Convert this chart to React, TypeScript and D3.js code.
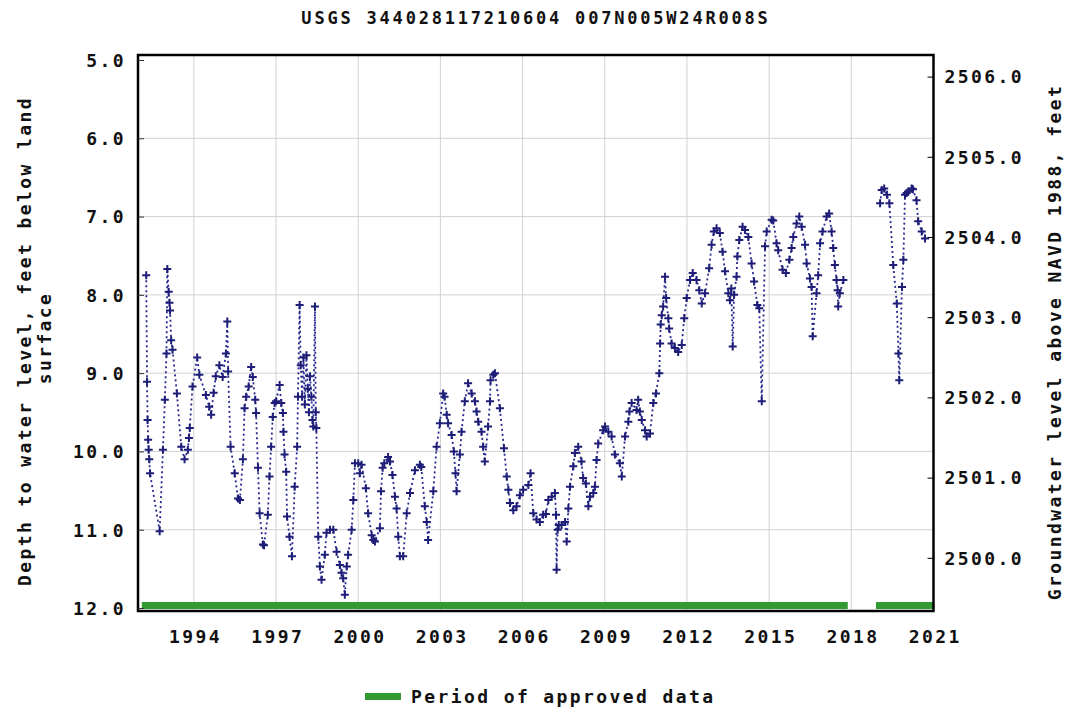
import React from 'react';
import * as d3 from 'd3';

const TITLE = 'USGS 344028117210604 007N005W24R008S';
const LEFT_LABEL_1 = 'Depth to water level, feet below land';
const LEFT_LABEL_2 = 'surface';
const RIGHT_LABEL = 'Groundwater level above NAVD 1988, feet';
const LEGEND_LABEL = 'Period of approved data';

const yearTicks = [1994, 1997, 2000, 2003, 2006, 2009, 2012, 2015, 2018, 2021];
const depthTicks = [5, 6, 7, 8, 9, 10, 11, 12];
const elevationTicks = [2500, 2501, 2502, 2503, 2504, 2505, 2506];

// approved data periods (decimal years)
const approvedPeriods: [number, number][] = [
  [1992.1, 2017.87],
  [2018.9, 2021.0],
];

// [decimal year, depth below land surface (ft)]
const levels1992to2017: [number, number][] = [
  [1992.26, 7.75], [1992.29, 9.11], [1992.31, 9.6], [1992.33, 9.85], [1992.35, 9.98],
  [1992.37, 10.1], [1992.40, 10.28], [1992.75, 11.02], [1992.87, 9.98], [1992.94, 9.34],
  [1993.0, 8.75], [1993.03, 7.67], [1993.08, 7.96], [1993.11, 8.1], [1993.13, 8.2],
  [1993.17, 8.58], [1993.22, 8.7], [1993.38, 9.26], [1993.54, 9.94], [1993.66, 10.1],
  [1993.78, 9.98], [1993.82, 9.83], [1993.85, 9.7], [1993.95, 9.17], [1994.12, 8.8],
  [1994.2, 9.02], [1994.44, 9.28], [1994.56, 9.43], [1994.63, 9.53], [1994.72, 9.25],
  [1994.8, 9.04], [1994.93, 8.9], [1995.05, 9.05], [1995.17, 8.75], [1995.22, 8.34],
  [1995.25, 8.98], [1995.34, 9.94], [1995.49, 10.28], [1995.61, 10.6], [1995.68, 10.62],
  [1995.79, 10.1], [1995.85, 9.45], [1995.91, 9.3], [1996.0, 9.17], [1996.09, 8.92],
  [1996.15, 9.05], [1996.24, 9.34], [1996.27, 9.51], [1996.34, 10.21], [1996.4, 10.79],
  [1996.52, 11.19], [1996.56, 11.2], [1996.7, 10.81], [1996.76, 10.32], [1996.82, 9.94],
  [1996.88, 9.56], [1996.95, 9.38], [1997.0, 9.36], [1997.13, 9.15], [1997.19, 9.38],
  [1997.25, 9.51], [1997.27, 9.75], [1997.31, 10.04], [1997.37, 10.26], [1997.4, 10.83],
  [1997.49, 11.09], [1997.58, 11.34], [1997.68, 10.45], [1997.77, 9.94], [1997.8, 9.3],
  [1997.86, 8.13], [1997.9, 8.9], [1997.95, 9.3], [1998.0, 8.8], [1998.05, 9.4],
  [1998.11, 8.77], [1998.16, 9.2], [1998.2, 9.5], [1998.24, 9.04], [1998.29, 9.3],
  [1998.33, 9.6], [1998.36, 9.68], [1998.42, 8.15], [1998.45, 9.5], [1998.47, 9.7],
  [1998.54, 11.09], [1998.6, 11.47], [1998.66, 11.64], [1998.78, 11.32], [1998.84, 11.04],
  [1998.97, 11.0], [1999.09, 11.0], [1999.21, 11.28], [1999.33, 11.45], [1999.39, 11.55],
  [1999.45, 11.62], [1999.51, 11.83], [1999.58, 11.47], [1999.63, 11.32], [1999.76, 11.0],
  [1999.82, 10.62], [1999.88, 10.15], [2000.0, 10.15], [2000.06, 10.28], [2000.12, 10.17],
  [2000.28, 10.47], [2000.36, 10.79], [2000.49, 11.07], [2000.55, 11.13], [2000.61, 11.15],
  [2000.79, 10.98], [2000.83, 10.51], [2000.89, 10.21], [2000.95, 10.15], [2001.09, 10.07],
  [2001.16, 10.13], [2001.25, 10.3], [2001.34, 10.58], [2001.4, 10.73], [2001.46, 11.09],
  [2001.52, 11.34], [2001.64, 11.34], [2001.77, 10.79], [2001.89, 10.53], [2002.07, 10.24],
  [2002.25, 10.17], [2002.3, 10.2], [2002.43, 10.7], [2002.5, 10.9], [2002.55, 11.13],
  [2002.74, 10.51], [2002.86, 9.94], [2002.98, 9.64], [2003.1, 9.26], [2003.15, 9.3],
  [2003.23, 9.53], [2003.28, 9.64], [2003.41, 9.79], [2003.49, 10.0], [2003.55, 10.28],
  [2003.59, 10.51], [2003.71, 10.04], [2003.77, 9.75], [2003.89, 9.36], [2004.01, 9.13],
  [2004.14, 9.26], [2004.26, 9.36], [2004.32, 9.49], [2004.38, 9.62], [2004.5, 9.75],
  [2004.56, 9.94], [2004.62, 10.13], [2004.74, 9.68], [2004.81, 9.36], [2004.83, 9.09],
  [2004.93, 9.02], [2004.99, 9.0], [2005.17, 9.45], [2005.32, 9.96], [2005.42, 10.32],
  [2005.48, 10.49], [2005.54, 10.66], [2005.66, 10.75], [2005.78, 10.7], [2005.9, 10.56],
  [2006.02, 10.49], [2006.21, 10.43], [2006.29, 10.28], [2006.39, 10.79], [2006.51, 10.87],
  [2006.63, 10.9], [2006.75, 10.81], [2006.85, 10.8], [2006.94, 10.62], [2007.06, 10.58],
  [2007.18, 10.53], [2007.22, 10.81], [2007.24, 11.51], [2007.28, 11.0], [2007.32, 10.94],
  [2007.42, 10.94], [2007.55, 10.9], [2007.61, 11.15], [2007.67, 10.73], [2007.73, 10.45],
  [2007.85, 10.19], [2007.91, 10.02], [2008.03, 9.94], [2008.15, 10.13], [2008.21, 10.34],
  [2008.31, 10.41], [2008.4, 10.7], [2008.46, 10.58], [2008.58, 10.53], [2008.64, 10.45],
  [2008.7, 10.11], [2008.76, 9.9], [2008.94, 9.73], [2009.01, 9.68], [2009.13, 9.75],
  [2009.25, 9.81], [2009.37, 10.04], [2009.55, 10.15], [2009.62, 10.32], [2009.74, 9.81],
  [2009.86, 9.62], [2009.9, 9.49], [2009.98, 9.38], [2010.16, 9.47], [2010.22, 9.34],
  [2010.28, 9.49], [2010.35, 9.6], [2010.47, 9.73], [2010.53, 9.81], [2010.65, 9.77],
  [2010.77, 9.38], [2010.87, 9.26], [2010.99, 9.0], [2011.02, 8.62], [2011.04, 8.38],
  [2011.08, 8.26], [2011.13, 8.15], [2011.2, 7.77], [2011.24, 8.04], [2011.32, 8.3],
  [2011.35, 8.43], [2011.44, 8.62], [2011.56, 8.68], [2011.68, 8.73], [2011.81, 8.64],
  [2011.9, 8.3], [2011.99, 8.04], [2012.11, 7.81], [2012.21, 7.72], [2012.35, 7.81],
  [2012.45, 7.94], [2012.54, 8.11], [2012.66, 7.98], [2012.81, 7.66], [2012.9, 7.36],
  [2012.98, 7.19], [2013.08, 7.15], [2013.2, 7.21], [2013.3, 7.45], [2013.39, 7.7],
  [2013.51, 7.98], [2013.57, 8.07], [2013.62, 7.92], [2013.67, 8.66], [2013.72, 8.0],
  [2013.81, 7.77], [2013.84, 7.51], [2013.91, 7.3], [2014.03, 7.13], [2014.12, 7.17],
  [2014.24, 7.26], [2014.36, 7.6], [2014.45, 7.83], [2014.57, 8.13], [2014.64, 8.17],
  [2014.73, 9.36], [2014.85, 7.38], [2014.91, 7.19], [2015.09, 7.04], [2015.15, 7.05],
  [2015.27, 7.34], [2015.33, 7.43], [2015.49, 7.68], [2015.61, 7.72], [2015.74, 7.55],
  [2015.82, 7.4], [2015.88, 7.26], [2016.0, 7.09], [2016.1, 7.0], [2016.19, 7.13],
  [2016.31, 7.36], [2016.37, 7.6], [2016.49, 7.79], [2016.55, 7.9], [2016.59, 8.53],
  [2016.73, 7.98], [2016.79, 7.75], [2016.86, 7.34], [2016.95, 7.19], [2017.1, 7.0],
  [2017.19, 6.96], [2017.28, 7.19], [2017.34, 7.4], [2017.4, 7.62], [2017.46, 7.81],
  [2017.5, 7.94], [2017.52, 8.15], [2017.58, 7.98], [2017.71, 7.81],
];

const levels2019to2020: [number, number][] = [
  [2019.05, 6.83], [2019.11, 6.66], [2019.2, 6.64], [2019.3, 6.72], [2019.39, 6.83],
  [2019.53, 7.62], [2019.66, 8.11], [2019.72, 8.75], [2019.75, 9.09], [2019.85, 7.9],
  [2019.9, 7.55], [2019.96, 6.72], [2020.02, 6.7], [2020.08, 6.68], [2020.2, 6.64],
  [2020.25, 6.65], [2020.38, 6.79], [2020.44, 7.06], [2020.57, 7.19], [2020.69, 7.28],
];

const WIDTH = 1068;
const HEIGHT = 713;
const FONT = '"DejaVu Sans Mono", monospace';

const App: React.FC = () => {
  const svgRef = React.useRef<SVGSVGElement>(null);

  React.useEffect(() => {
    if (!svgRef.current) return;
    const svg = d3.select(svgRef.current);
    svg.selectAll('*').remove();

    const plot = { left: 138, right: 933.5, top: 55, bottom: 611 };

    const x = d3.scaleLinear().domain([1991.96, 2021.0]).range([plot.left, plot.right]);
    const yDepth = d3.scaleLinear().domain([5, 12]).range([60, 608]);
    const yElev = d3.scaleLinear().domain([2504, 2500]).range([237, 557.8]);

    const text = (sel: d3.Selection<any, any, any, any>) =>
      sel
        .attr('font-family', FONT)
        .attr('font-weight', 'bold')
        .attr('font-size', 18)
        .attr('letter-spacing', 2.4)
        .attr('fill', '#111');

    svg.append('rect').attr('width', WIDTH).attr('height', HEIGHT).attr('fill', '#fff');

    // 제목
    svg.append('text')
      .attr('x', 536)
      .attr('y', 24)
      .attr('text-anchor', 'middle')
      .call(text)
      .attr('font-size', 17)
      .attr('letter-spacing', 2.8)
      .text(TITLE);

    // 격자
    const grid = svg.append('g').attr('stroke', '#d2d2d2').attr('stroke-width', 1);
    grid.selectAll('.vgrid')
      .data(yearTicks.filter(d => d < 2021))
      .enter().append('line')
      .attr('x1', d => x(d)).attr('x2', d => x(d))
      .attr('y1', plot.top).attr('y2', plot.bottom);
    grid.selectAll('.hgrid')
      .data(depthTicks.filter(d => d > 5 && d < 12))
      .enter().append('line')
      .attr('x1', plot.left).attr('x2', plot.right)
      .attr('y1', d => yDepth(d)).attr('y2', d => yDepth(d));

    // 승인 기간 막대
    svg.selectAll('.approved')
      .data(approvedPeriods)
      .enter().append('rect')
      .attr('x', d => x(d[0]))
      .attr('width', d => x(d[1]) - x(d[0]))
      .attr('y', 602)
      .attr('height', 7)
      .attr('fill', '#339933');

    // 수위 선
    const line = d3.line<[number, number]>()
      .x(d => x(d[0]))
      .y(d => yDepth(d[1]));

    const series = [levels1992to2017, levels2019to2020];
    svg.selectAll('.level-line')
      .data(series)
      .enter().append('path')
      .attr('d', d => line(d))
      .attr('fill', 'none')
      .attr('stroke', '#26268f')
      .attr('stroke-width', 1.8)
      .attr('stroke-dasharray', '2 3');

    const allPoints = series.flat();
    svg.selectAll('.marker')
      .data(allPoints)
      .enter().append('path')
      .attr('transform', d => `translate(${x(d[0])},${yDepth(d[1])})`)
      .attr('d', 'M-4,0H4M0,-4V4')
      .attr('stroke', '#1e1e78')
      .attr('stroke-width', 2)
      .attr('fill', 'none');

    // 테두리
    svg.append('rect')
      .attr('x', plot.left).attr('y', plot.top)
      .attr('width', plot.right - plot.left)
      .attr('height', plot.bottom - plot.top)
      .attr('fill', 'none')
      .attr('stroke', '#000')
      .attr('stroke-width', 2.5);

    // 왼쪽 축
    const leftAxis = svg.append('g')
      .attr('transform', `translate(${plot.left},0)`)
      .call(d3.axisLeft(yDepth).tickValues(depthTicks).tickFormat(d3.format('.1f')).tickSize(-6).tickPadding(12));
    leftAxis.select('.domain').remove();
    leftAxis.selectAll('line').attr('stroke', '#333');
    leftAxis.selectAll('text').call(text).attr('dy', '0.35em');

    // 오른쪽 축
    const rightAxis = svg.append('g')
      .attr('transform', `translate(${plot.right},0)`)
      .call(d3.axisRight(yElev).tickValues(elevationTicks).tickFormat(d3.format('.1f')).tickSize(-6).tickPadding(11));
    rightAxis.select('.domain').remove();
    rightAxis.selectAll('line').attr('stroke', '#000');
    rightAxis.selectAll('text').call(text).attr('dy', '0.35em');

    // 아래 축
    const bottomAxis = svg.append('g')
      .attr('transform', `translate(0,${plot.bottom})`)
      .call(d3.axisBottom(x).tickValues(yearTicks).tickFormat(d3.format('d')).tickSize(0).tickPadding(19));
    bottomAxis.select('.domain').remove();
    bottomAxis.selectAll('text').call(text).attr('dx', 1.2);

    // 축 제목
    svg.append('text')
      .attr('transform', 'translate(31,341) rotate(-90)')
      .attr('text-anchor', 'middle')
      .call(text)
      .text(LEFT_LABEL_1);
    svg.append('text')
      .attr('transform', 'translate(51,338) rotate(-90)')
      .attr('text-anchor', 'middle')
      .call(text)
      .text(LEFT_LABEL_2);
    svg.append('text')
      .attr('transform', 'translate(1061,342) rotate(-90)')
      .attr('text-anchor', 'middle')
      .call(text)
      .text(RIGHT_LABEL);

    // 범례
    svg.append('rect')
      .attr('x', 365).attr('y', 693)
      .attr('width', 36).attr('height', 7)
      .attr('fill', '#339933');
    svg.append('text')
      .attr('x', 411).attr('y', 703)
      .call(text)
      .text(LEGEND_LABEL);
  }, []);

  return (
    <svg
      ref={svgRef}
      width={WIDTH}
      height={HEIGHT}
      style={{ position: 'absolute', left: 0, top: 0 }}
    />
  );
};

export default App;
